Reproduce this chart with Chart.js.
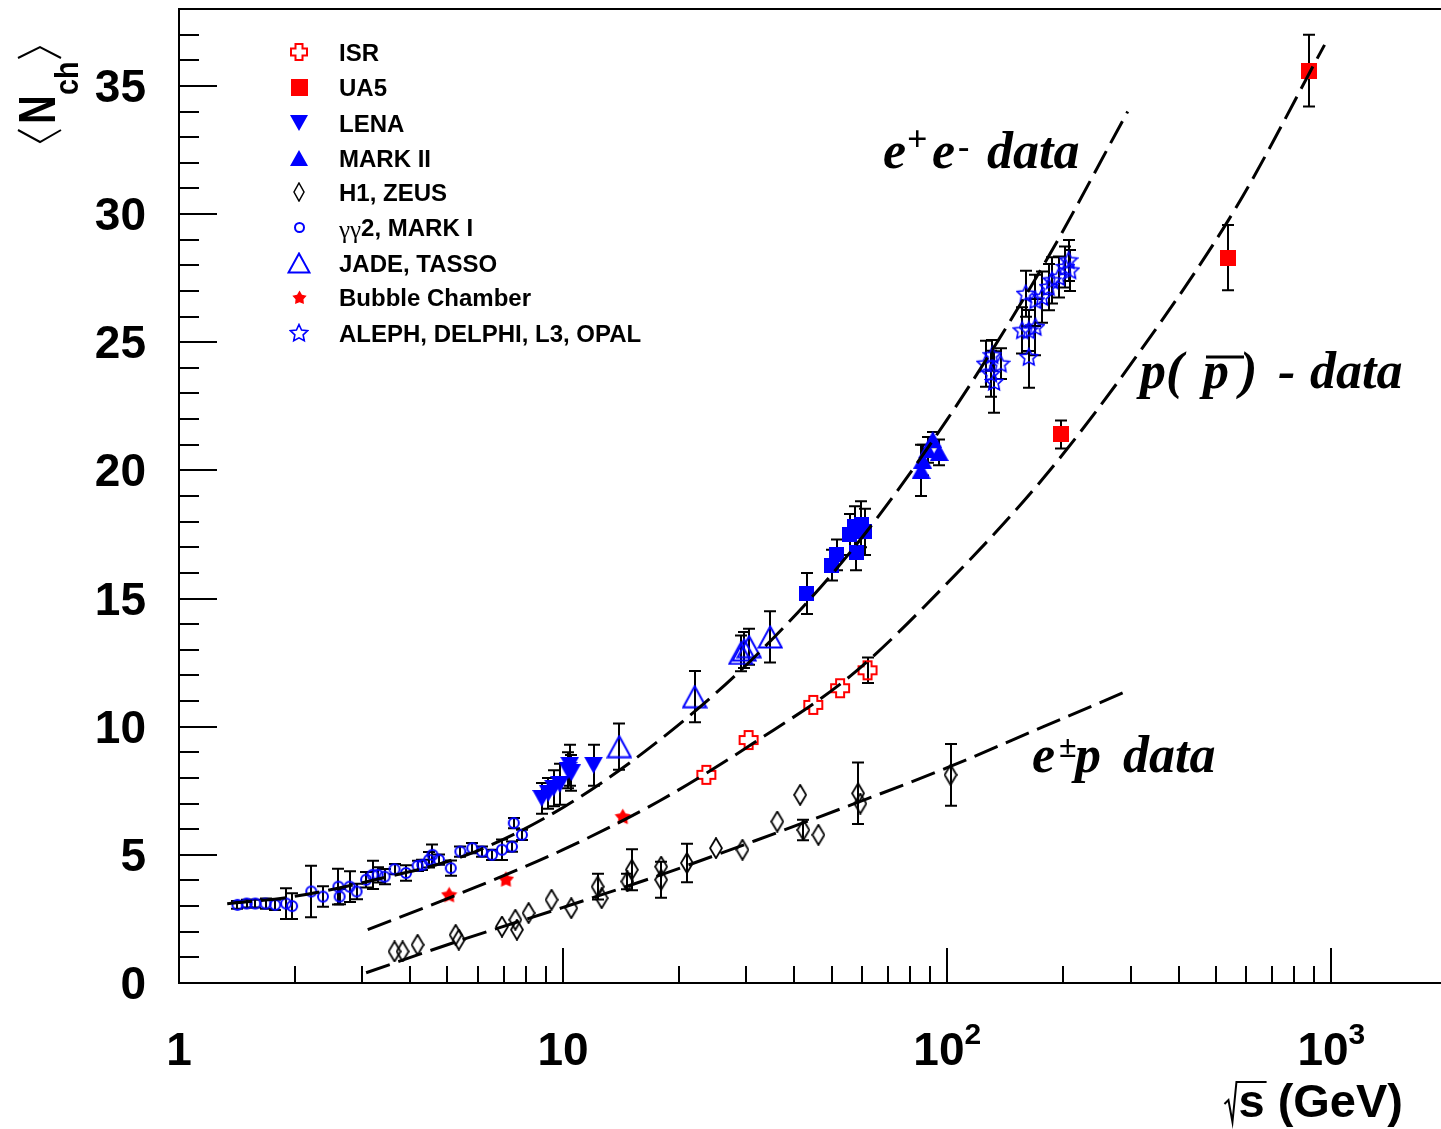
<!DOCTYPE html>
<html lang="en">
<head>
<meta charset="UTF-8">
<title>Mean charged multiplicity vs sqrt(s)</title>
<script src="https://cdn.jsdelivr.net/npm/chart.js@4.4.1/dist/chart.umd.min.js"></script>
<style>
  html, body { margin: 0; padding: 0; background: #fff; }
  canvas { display: block; }
</style>
</head>
<body>
<canvas id="chart" width="1441" height="1129"></canvas>
<script>
// ---- values (sqrt(s) in GeV, <N_ch>, vertical error) ----
var isrX = [23.6, 30.4, 44.8, 52.6, 62.0];
var isrY = [8.12, 9.48, 10.85, 11.5, 12.2];
var isrErr = [0, 0, 0, 0, 0.5];

var ua5X = [198, 537, 873];
var ua5Y = [21.4, 28.3, 35.6];
var ua5Err = [0.55, 1.27, 1.4];

var lenaX = [8.8, 9.15, 9.45, 9.8, 10.3, 10.4, 10.5, 12.0];
var lenaY = [7.2, 7.4, 7.6, 7.75, 8.3, 8.5, 8.2, 8.5];
var lenaErr = [0.6, 0.6, 0.7, 0.8, 0.7, 0.8, 0.7, 0.8];

var mark2X = [85.5, 86.3, 88.9, 91.7, 95.3];
var mark2Y = [20.0, 20.4, 20.8, 21.2, 20.7];
var mark2Err = [1.0, 0.6, 0.5, 0.3, 0.5];

// blue filled squares around 40-60 GeV (no legend entry in the figure)
var sqX = [43.1, 50.0, 51.5, 55.8, 57.5, 59.8, 61.0, 58.0];
var sqY = [15.2, 16.3, 16.7, 17.5, 17.8, 17.9, 17.6, 16.8];
var sqErr = [0.8, 0.6, 0.6, 0.8, 0.8, 0.9, 0.9, 0.7];

var h1X = [3.64, 3.82, 4.18, 5.25, 5.35, 6.93, 7.51, 7.58, 8.13, 9.33, 10.5, 12.3, 12.6, 14.7, 15.1,
           18.0, 18.0, 21.0, 25.0, 29.3, 36.1, 41.4, 42.2, 46.2, 58.6, 59.4, 102];
var h1Y = [1.23, 1.23, 1.49, 1.88, 1.69, 2.2, 2.47, 2.08, 2.73, 3.25, 2.92, 3.76, 3.31, 3.96, 4.42,
           4.54, 4.03, 4.68, 5.26, 5.2, 6.3, 7.34, 5.97, 5.78, 7.4, 7.0, 8.12];
var h1Err = [0, 0, 0, 0, 0, 0, 0, 0, 0, 0, 0, 0.5, 0, 0.3, 0.8,
             0, 0.7, 0.75, 0, 0, 0, 0, 0.4, 0, 1.2, 0, 1.2];

var ggX = [1.42, 1.5, 1.58, 1.68, 1.78, 1.9, 1.97, 2.21, 2.37, 2.6, 2.62, 2.78, 2.9, 3.07, 3.19, 3.29, 3.43,
           3.64, 3.9, 4.18, 4.3, 4.48, 4.57, 4.75, 5.1, 5.4, 5.8, 6.15, 6.53, 6.93, 7.36, 7.44, 7.81];
var ggY = [3.05, 3.1, 3.1, 3.1, 3.05, 3.1, 3.0, 3.57, 3.37, 3.76, 3.37, 3.76, 3.57, 4.03, 4.22, 4.22, 4.15,
           4.44, 4.29, 4.57, 4.61, 4.81, 5.0, 4.81, 4.48, 5.13, 5.26, 5.13, 5.0, 5.2, 5.32, 6.24, 5.78];
var ggErr = [0.15, 0.15, 0.15, 0.2, 0.2, 0.6, 0.5, 1.0, 0.4, 0.7, 0.3, 0.6, 0.3, 0.3, 0.55, 0.3, 0.3,
             0.2, 0.3, 0.2, 0.2, 0.3, 0.4, 0.2, 0.3, 0.2, 0.2, 0.2, 0.2, 0.4, 0.2, 0.2, 0.2];

var jadeX = [14.0, 22.0, 29.0, 29.6, 30.5, 34.6];
var jadeY = [9.22, 11.17, 12.86, 12.99, 13.12, 13.5];
var jadeErr = [0.9, 1.0, 0.7, 0.7, 0.7, 1.0];

var bubbleX = [5.05, 7.1, 14.3];
var bubbleY = [3.44, 4.05, 6.49];
var bubbleErr = [0, 0, 0];

var lepX = [126, 130, 132.4, 137.7, 131, 156.7, 163, 163, 169.7, 160, 169.7, 176.5, 183.6, 187.4, 195, 203, 209, 207];
var lepY = [24.16, 23.77, 23.45, 24.16, 24.49, 25.46, 25.46, 24.42, 25.59, 26.89, 26.63, 26.76, 27.15, 27.41, 27.54, 27.93, 27.8, 28.19];
var lepErr = [0.9, 0.9, 1.2, 0.6, 0.6, 0.9, 0.8, 1.2, 1.1, 0.9, 1.0, 1.0, 0.9, 0.9, 0.8, 0.8, 0.8, 0.8];

// dashed fit curves, sampled off the figure
var eeCurveX = [1.335, 2.0, 3.16, 5.62, 10, 17.8, 31.6, 56.2, 100, 178, 295];
var eeCurveY = [3.09, 3.38, 3.99, 5.0, 6.85, 9.47, 12.74, 16.85, 21.99, 28.0, 34.0];
var ppCurveX = [3.1, 5.62, 10, 17.8, 31.6, 56.2, 100, 178, 316, 562, 960];
var ppCurveY = [2.08, 3.6, 5.2, 7.1, 9.4, 12.0, 15.6, 19.7, 24.6, 30.2, 36.6];
var epCurveX = [3.07, 5.62, 10, 17.8, 31.6, 56.2, 100, 178, 295];
var epCurveY = [0.4, 1.75, 2.95, 4.2, 5.55, 6.95, 8.4, 10.0, 11.4];

// axes
var xMin = 1, xMax = 1850;
var yMin = 0, yMax = 38;
var yTickLabels = [0, 5, 10, 15, 20, 25, 30, 35];
var xTickValues = [1, 10, 100, 1000];
var xTickBase = ['1', '10', '10', '10'];
var xTickExp = ['', '', '2', '3'];

var legendLabels = ['ISR', 'UA5', 'LENA', 'MARK II', 'H1, ZEUS', '\u03b3\u03b32, MARK I',
                    'JADE, TASSO', 'Bubble Chamber', 'ALEPH, DELPHI, L3, OPAL'];

// ---- marker images ----
var RED = '#ff0000', BLUE = '#0000ff';
function makeMarker(w, h, paint) {
    var c = document.createElement('canvas');
    c.width = w; c.height = h;
    paint(c.getContext('2d'), w, h);
    return c;
}
function starPath(g, cx, cy, ro, ri) {
    g.beginPath();
    for (var i = 0; i < 10; i++) {
        var r = i % 2 ? ri : ro;
        var t = -Math.PI / 2 + i * Math.PI / 5;
        g.lineTo(cx + r * Math.cos(t), cy + r * Math.sin(t));
    }
    g.closePath();
}
function crossMarker(s, a, lw) {
    return makeMarker(s, s, function (g) {
        var c = s / 2, r = c - lw;
        g.strokeStyle = RED; g.lineWidth = lw;
        g.beginPath();
        g.moveTo(c - a, c - r); g.lineTo(c + a, c - r); g.lineTo(c + a, c - a); g.lineTo(c + r, c - a);
        g.lineTo(c + r, c + a); g.lineTo(c + a, c + a); g.lineTo(c + a, c + r); g.lineTo(c - a, c + r);
        g.lineTo(c - a, c + a); g.lineTo(c - r, c + a); g.lineTo(c - r, c - a); g.lineTo(c - a, c - a);
        g.closePath(); g.stroke();
    });
}
function diamondMarker(w, h, lw) {
    return makeMarker(w, h, function (g) {
        g.strokeStyle = '#000'; g.lineWidth = lw;
        g.beginPath(); g.moveTo(w / 2, 1); g.lineTo(w - 1, h / 2); g.lineTo(w / 2, h - 1); g.lineTo(1, h / 2);
        g.closePath(); g.stroke();
    });
}
function triMarker(w, h, down) {
    return makeMarker(w, h, function (g) {
        g.fillStyle = BLUE; g.beginPath();
        if (down) { g.moveTo(0, 0); g.lineTo(w, 0); g.lineTo(w / 2, h); }
        else { g.moveTo(w / 2, 0); g.lineTo(w, h); g.lineTo(0, h); }
        g.closePath(); g.fill();
    });
}
function openTriMarker(w, h) {
    return makeMarker(w, h, function (g) {
        g.strokeStyle = BLUE; g.lineWidth = 2;
        g.beginPath(); g.moveTo(w / 2, 1.5); g.lineTo(w - 1.5, h - 1.5); g.lineTo(1.5, h - 1.5); g.closePath(); g.stroke();
    });
}
function circleMarker(s) {
    return makeMarker(s, s, function (g) {
        g.strokeStyle = BLUE; g.lineWidth = 2;
        g.beginPath(); g.arc(s / 2, s / 2, s / 2 - 2, 0, 2 * Math.PI); g.stroke();
    });
}
function redStarMarker(s) {
    return makeMarker(s, s, function (g) { g.fillStyle = RED; starPath(g, s / 2, s / 2 + 0.5, s / 2, s / 3.6); g.fill(); });
}
function openStarMarker(s) {
    return makeMarker(s, s, function (g) {
        g.strokeStyle = BLUE; g.lineWidth = 1.6; starPath(g, s / 2, s / 2 + 0.5, s / 2 - 1, s / 4.6); g.stroke();
    });
}
function squareMarker(s, col) {
    return makeMarker(s, s, function (g) { g.fillStyle = col; g.fillRect(0, 0, s, s); });
}

// markers on the plot
var mkCross = crossMarker(22, 4, 2);
var mkRedSquare = squareMarker(16, RED);
var mkBlueSquare = squareMarker(15, BLUE);
var mkTriDown = triMarker(19, 17, true);
var mkTriUp = triMarker(19, 17, false);
var mkDiamond = diamondMarker(14, 22, 1.8);
var mkCircle = circleMarker(14);
var mkOpenTri = openTriMarker(26, 24);
var mkRedStar = redStarMarker(17);
var mkOpenStar = openStarMarker(20);
// markers in the legend (slightly smaller, as in the figure)
var legendMarkers = [crossMarker(20, 3.5, 2), squareMarker(17, RED), triMarker(18, 16, true), triMarker(18, 16, false),
                     diamondMarker(12, 20, 1.5), circleMarker(13), openTriMarker(24, 22), redStarMarker(15),
                     openStarMarker(20)];

// ---- datasets ----
function pts(xs, ys) {
    return xs.map(function (x, i) { return { x: x, y: ys[i] }; });
}
function curve(xs, ys) {
    return {
        data: pts(xs, ys), showLine: true, pointRadius: 0, borderColor: '#000',
        borderWidth: 3, borderDash: [25, 9], cubicInterpolationMode: 'monotone', fill: false
    };
}
function markers(label, xs, ys, errs, img) {
    return { label: label, data: pts(xs, ys), errs: errs, pointStyle: img, pointRadius: 6, showLine: false };
}

var datasets = [
    curve(eeCurveX, eeCurveY),
    curve(ppCurveX, ppCurveY),
    curve(epCurveX, epCurveY),
    markers('UA5', ua5X, ua5Y, ua5Err, mkRedSquare),
    markers('ISR', isrX, isrY, isrErr, mkCross),
    markers('Bubble Chamber', bubbleX, bubbleY, bubbleErr, mkRedStar),
    markers('LENA', lenaX, lenaY, lenaErr, mkTriDown),
    markers('MARK II', mark2X, mark2Y, mark2Err, mkTriUp),
    markers('', sqX, sqY, sqErr, mkBlueSquare),
    markers('JADE, TASSO', jadeX, jadeY, jadeErr, mkOpenTri),
    markers('ALEPH, DELPHI, L3, OPAL', lepX, lepY, lepErr, mkOpenStar),
    markers('gg2, MARK I', ggX, ggY, ggErr, mkCircle),
    markers('H1, ZEUS', h1X, h1Y, h1Err, mkDiamond)
];

// ---- ROOT-style frame, ticks, labels, legend, error bars ----
var SANS = '"Liberation Sans", Arial, Helvetica, sans-serif';
var SERIF = '"Liberation Serif", "Times New Roman", serif';

var rootStyle = {
    id: 'rootStyle',
    beforeDatasetsDraw: function (chart) {
        var ctx = chart.ctx, xs = chart.scales.x, ys = chart.scales.y, a = chart.chartArea;
        ctx.save();
        ctx.beginPath(); ctx.rect(a.left, a.top, a.right - a.left, a.bottom - a.top); ctx.clip();
        ctx.strokeStyle = '#000'; ctx.lineWidth = 2;
        chart.data.datasets.forEach(function (ds) {
            if (!ds.errs) return;
            ds.data.forEach(function (p, i) {
                var e = ds.errs[i];
                if (!e) return;
                var px = Math.round(xs.getPixelForValue(p.x));
                var y0 = ys.getPixelForValue(p.y - e), y1 = ys.getPixelForValue(p.y + e);
                ctx.beginPath();
                ctx.moveTo(px, y0); ctx.lineTo(px, y1);
                ctx.moveTo(px - 6, y0); ctx.lineTo(px + 6, y0);
                ctx.moveTo(px - 6, y1); ctx.lineTo(px + 6, y1);
                ctx.stroke();
            });
        });
        ctx.restore();
    },
    afterDraw: function (chart) {
        var ctx = chart.ctx, xs = chart.scales.x, ys = chart.scales.y, a = chart.chartArea;
        ctx.save();
        ctx.strokeStyle = '#000'; ctx.fillStyle = '#000'; ctx.lineWidth = 2;
        // frame (right side runs off the canvas, as in the figure)
        ctx.strokeRect(a.left, a.top, a.right - a.left + 10, a.bottom - a.top);

        // y ticks
        for (var v = yMin; v < yMax; v++) {
            var py = Math.round(ys.getPixelForValue(v));
            var len = v % 5 === 0 ? 38 : 20;
            ctx.beginPath(); ctx.moveTo(a.left, py); ctx.lineTo(a.left + len, py); ctx.stroke();
        }
        // x ticks
        for (var d = 1; d <= xMax; d *= 10) {
            for (var m = 1; m <= 9; m++) {
                var xv = m * d;
                if (xv > xMax) break;
                var px = Math.round(xs.getPixelForValue(xv));
                var l = m === 1 ? 35 : 17;
                ctx.beginPath(); ctx.moveTo(px, a.bottom); ctx.lineTo(px, a.bottom - l); ctx.stroke();
            }
        }

        // y tick labels
        ctx.font = 'bold 46px ' + SANS;
        ctx.textAlign = 'right'; ctx.textBaseline = 'alphabetic';
        yTickLabels.forEach(function (t) {
            ctx.fillText(String(t), 146, ys.getPixelForValue(t) + 16);
        });
        // x tick labels
        xTickValues.forEach(function (t, i) {
            var cx = xs.getPixelForValue(t);
            ctx.font = 'bold 46px ' + SANS;
            var wb = ctx.measureText(xTickBase[i]).width;
            ctx.font = 'bold 30px ' + SANS;
            var we = xTickExp[i] ? ctx.measureText(xTickExp[i]).width : 0;
            var x0 = cx - (wb + we) / 2;
            ctx.textAlign = 'left';
            ctx.font = 'bold 46px ' + SANS;
            ctx.fillText(xTickBase[i], x0, 1065);
            if (we) {
                ctx.font = 'bold 30px ' + SANS;
                ctx.fillText(xTickExp[i], x0 + wb, 1044);
            }
        });

        // x title: sqrt(s) (GeV)
        ctx.font = 'bold 47px ' + SANS;
        ctx.textAlign = 'right';
        ctx.fillText('s (GeV)', 1403, 1117);
        var wt = ctx.measureText('s (GeV)').width;
        var sx = 1403 - wt, sw = ctx.measureText('s').width;
        ctx.lineWidth = 2;
        ctx.beginPath();
        ctx.moveTo(sx - 14, 1104); ctx.lineTo(sx - 10, 1100); ctx.lineTo(sx - 6, 1122);
        ctx.lineTo(sx - 2, 1082); ctx.lineTo(sx + sw + 2, 1082);
        ctx.stroke();

        // y title: <N_ch>
        ctx.lineWidth = 2;
        ctx.beginPath(); ctx.moveTo(18, 130); ctx.lineTo(40, 142); ctx.lineTo(61, 130); ctx.stroke();
        ctx.beginPath(); ctx.moveTo(18, 58); ctx.lineTo(40, 47); ctx.lineTo(61, 58); ctx.stroke();
        ctx.save();
        ctx.translate(55, 124); ctx.rotate(-Math.PI / 2);
        ctx.textAlign = 'left';
        ctx.save(); ctx.scale(0.78, 1);
        ctx.font = 'bold 51px ' + SANS;
        ctx.fillText('N', 0, 0);
        ctx.restore();
        ctx.save(); ctx.translate(29, 23); ctx.scale(0.85, 1);
        ctx.font = 'bold 34px ' + SANS;
        ctx.fillText('ch', 0, 0);
        ctx.restore();
        ctx.restore();

        // legend
        var ly = [52, 87, 123, 158, 192, 227, 263, 297, 333];
        ctx.textAlign = 'left';
        legendLabels.forEach(function (lab, i) {
            var img = legendMarkers[i];
            ctx.drawImage(img, Math.round(299 - img.width / 2), Math.round(ly[i] - img.height / 2));
            var base = ly[i] + 8.5;
            if (lab.charAt(0) === '\u03b3') {
                ctx.font = '25px ' + SERIF;
                ctx.fillText('\u03b3\u03b3', 339, base + 2);
                var wg = ctx.measureText('\u03b3\u03b3').width;
                ctx.font = 'bold 24px ' + SANS;
                ctx.fillText(lab.slice(2), 339 + wg, base);
            } else {
                ctx.font = 'bold 24px ' + SANS;
                ctx.fillText(lab, 339, base);
            }
        });

        // curve annotations
        var big = 'bold italic 52px ' + SERIF;
        ctx.font = big;
        ctx.fillText('e', 883, 168);
        ctx.fillText('e', 932, 168);
        ctx.fillText('data', 987, 168);
        ctx.font = 'bold 36px ' + SERIF;
        ctx.fillText('+', 907, 151);
        ctx.font = 'bold 34px ' + SERIF;
        ctx.fillText('-', 958, 158);

        ctx.font = big;
        ctx.fillText('p(', 1140, 388);
        ctx.fillText('p', 1203, 388);
        ctx.fillText(')', 1240, 388);
        ctx.fillText('-', 1278, 388);
        ctx.fillText('data', 1310, 388);
        ctx.lineWidth = 3;
        ctx.beginPath(); ctx.moveTo(1206, 357); ctx.lineTo(1244, 357); ctx.stroke();

        ctx.font = big;
        ctx.fillText('e', 1032, 772);
        ctx.fillText('p', 1075, 772);
        ctx.fillText('data', 1123, 772);
        ctx.font = 'bold 32px ' + SERIF;
        ctx.fillText('\u00b1', 1059, 757);

        ctx.restore();
    }
};

var chart = new Chart(document.getElementById('chart').getContext('2d'), {
    type: 'scatter',
    data: { datasets: datasets },
    options: {
        responsive: false,
        animation: false,
        events: [],
        layout: { padding: { left: 179, top: 9, right: 0, bottom: 146 } },
        plugins: { legend: { display: false }, tooltip: { enabled: false } },
        scales: {
            x: { type: 'logarithmic', min: xMin, max: xMax, display: false },
            y: { type: 'linear', min: yMin, max: yMax, display: false }
        }
    },
    plugins: [rootStyle]
});
</script>
</body>
</html>
